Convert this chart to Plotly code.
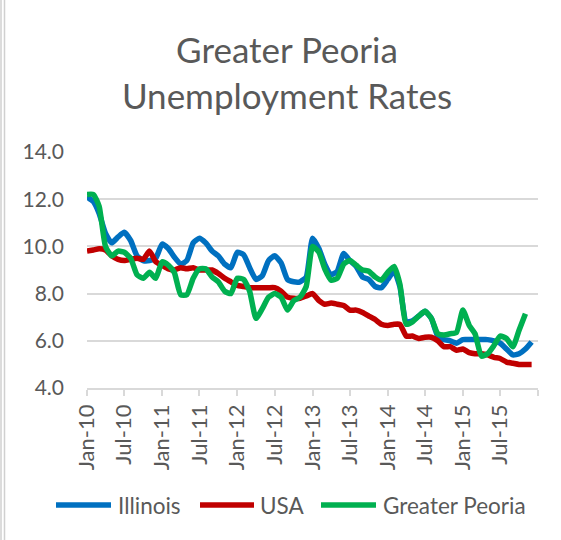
import pandas as pd
import plotly.graph_objects as go

# ---- data (monthly, Jan-2010 onward) ----
months = pd.date_range("2010-01-01", periods=72, freq="MS")

illinois = [
    12.1, 11.9, 11.4, 10.55, 10.15, 10.4, 10.6, 10.25, 9.6, 9.4, 9.4, 9.5,
    10.1, 9.9, 9.55, 9.25, 9.4, 10.15, 10.35, 10.15, 9.8, 9.6, 9.25, 9.1,
    9.75, 9.65, 9.1, 8.6, 8.75, 9.4, 9.6, 9.3, 8.6, 8.5, 8.5, 8.7,
    10.35, 9.9, 9.25, 8.8, 8.95, 9.7, 9.4, 9.15, 8.7, 8.6, 8.3, 8.25,
    8.6, 8.95, 8.3, 6.8, 6.85, 7.05, 7.25, 6.95, 6.2, 6.05, 6.0, 5.9,
    6.05, 6.05, 6.05, 6.05, 6.05, 6.0, 5.9, 5.65, 5.4, 5.45, 5.65, 5.95,
]

usa = [
    9.8, 9.85, 9.9, 9.85, 9.6, 9.45, 9.4, 9.45, 9.5, 9.45, 9.8, 9.35,
    9.2, 9.05, 9.0, 9.1, 9.05, 9.1, 9.0, 9.0, 9.0, 8.85, 8.65, 8.5,
    8.35, 8.3, 8.25, 8.25, 8.25, 8.25, 8.25, 8.1, 7.85, 7.8, 7.8, 7.9,
    8.0, 7.7, 7.55, 7.6, 7.55, 7.5, 7.3, 7.3, 7.2, 7.05, 6.9, 6.7,
    6.65, 6.7, 6.7, 6.2, 6.2, 6.1, 6.15, 6.15, 6.0, 5.75, 5.75, 5.6,
    5.65, 5.5, 5.45, 5.45, 5.4, 5.3, 5.25, 5.1, 5.05, 5.0, 5.0, 5.0,
]

peoria = [
    12.2, 12.2, 11.7, 10.0, 9.6, 9.8, 9.75, 9.5, 8.8, 8.65, 8.9, 8.65,
    9.35, 9.2, 8.9, 7.95, 7.95, 8.65, 9.05, 9.05, 8.7, 8.5, 8.1, 8.0,
    8.65, 8.6, 8.1, 6.95, 7.35, 7.85, 8.0, 7.85, 7.3, 7.7, 7.85, 8.3,
    10.0, 9.75, 9.05, 8.57, 8.65, 9.25, 9.4, 9.2, 9.0, 8.95, 8.7, 8.57,
    8.9, 9.15, 8.4, 6.7, 6.8, 7.05, 7.25, 6.95, 6.3, 6.25, 6.3, 6.35,
    7.3, 6.65, 6.3, 5.35, 5.45, 5.8, 6.2, 6.1, 5.75, 6.45, 7.15,
]

series_names = ["Illinois", "USA", "Greater Peoria"]
series_colors = ["#0070C0", "#C00000", "#00B050"]

tick_dates = ["2010-01-01", "2010-07-01", "2011-01-01", "2011-07-01",
              "2012-01-01", "2012-07-01", "2013-01-01", "2013-07-01",
              "2014-01-01", "2014-07-01", "2015-01-01", "2015-07-01",
              "2016-01-01"]
tick_labels = ["Jan-10", "Jul-10", "Jan-11", "Jul-11", "Jan-12", "Jul-12",
               "Jan-13", "Jul-13", "Jan-14", "Jul-14", "Jan-15", "Jul-15", ""]

y_ticks = [4, 6, 8, 10, 12, 14]

FONT = "Lato"
GRAY = "#595959"
GRID = "#D9D9D9"

W, H = 561, 540
ML, MR, MT, MB = 87, 23, 152, 152
PW, PH = W - ML - MR, H - MT - MB


def px_x(px):
    return (px - ML) / PW


def px_y(py):
    return (H - MB - py) / PH


fig = go.Figure()
for name, vals, col in zip(series_names, [illinois, usa, peoria], series_colors):
    fig.add_trace(go.Scatter(
        x=months[:len(vals)], y=vals, name=name, mode="lines",
        line=dict(color=col, width=5.5, shape="spline", smoothing=0.5),
        showlegend=False,
    ))

# legend drawn as line samples + text (longer samples than plotly's legend)
legend_sample_x = [(56, 111), (200, 254), (321, 376)]
legend_text_x = [116, 258, 381]
LEG_Y = 505
shapes = []
annotations = []
for (x0, x1), tx, name, col in zip(legend_sample_x, legend_text_x,
                                     series_names, series_colors):
    shapes.append(dict(type="line", xref="paper", yref="paper",
                       x0=px_x(x0), x1=px_x(x1), y0=px_y(LEG_Y), y1=px_y(LEG_Y),
                       line=dict(color=col, width=5.5)))
    annotations.append(dict(text=name, xref="paper", yref="paper",
                            x=px_x(tx), y=px_y(LEG_Y), xanchor="left",
                            yanchor="middle", showarrow=False,
                            font=dict(family=FONT, size=22.5, color=GRAY)))

# chart frame edge at the far left
for bx in (1, 4.5):
    shapes.append(dict(type="line", xref="paper", yref="paper",
                       x0=px_x(bx), x1=px_x(bx), y0=-10, y1=10,
                       line=dict(color="#D0D0D0", width=1.5)))

fig.update_layout(
    width=W, height=H,
    margin=dict(l=ML, r=MR, t=MT, b=MB),
    paper_bgcolor="white", plot_bgcolor="white",
    font=dict(family=FONT, color=GRAY, size=22),
    title=dict(text="Greater Peoria<br>Unemployment Rates",
               font=dict(family=FONT, size=35, color=GRAY),
               x=287 / W, xanchor="center", xref="container",
               y=1 - 63 / H, yanchor="top", yref="container"),
    showlegend=False,
    shapes=shapes,
    annotations=annotations,
)

fig.update_xaxes(
    type="date", range=["2010-01-01", "2016-01-01"],
    tickmode="array", tickvals=tick_dates, ticktext=tick_labels,
    tickangle=-90, ticks="outside", ticklen=6, tickcolor=GRID, tickwidth=1.5,
    showline=True, linecolor=GRID, linewidth=1.5,
    showgrid=False, zeroline=False, automargin=False,
    tickfont=dict(family=FONT, size=22, color=GRAY),
)
fig.update_yaxes(
    range=[4, 14], tickmode="array", tickvals=y_ticks,
    ticktext=[f"{v:.1f}" for v in y_ticks],
    showgrid=True, gridcolor=GRID, gridwidth=1.5,
    showline=False, zeroline=False, ticks="", automargin=False,
    ticklabelstandoff=22,
    tickfont=dict(family=FONT, size=21, color=GRAY),
)

fig.write_html("out.html",
               config={"displayModeBar": False},
               post_script="document.body.style.margin='0px';")
